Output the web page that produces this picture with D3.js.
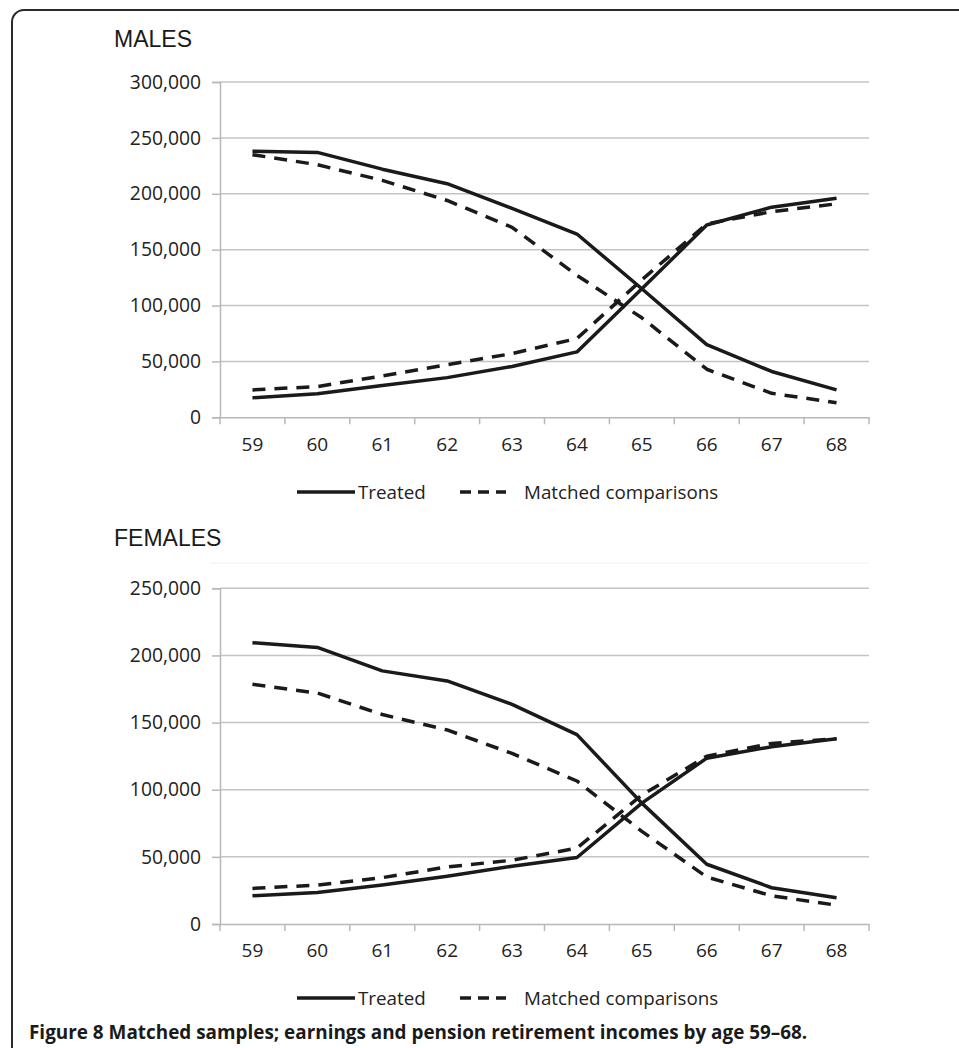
<!DOCTYPE html>
<html><head><meta charset="utf-8">
<script src="https://cdn.jsdelivr.net/npm/d3@7"></script>
<style>
body{margin:0;background:#fff;}
svg{display:block;}
</style></head>
<body>
<svg id="chart" width="959" height="1048"></svg>
<script>
const ages = [59,60,61,62,63,64,65,66,67,68];
const malesTicks = [0,50000,100000,150000,200000,250000,300000];
const femalesTicks = [0,50000,100000,150000,200000,250000];

// MALES
const maleTreatedDown   = [238000,237000,222000,209000,187000,164000,115000,65000,41000,24500];
const maleMatchedDown   = [235000,226000,212000,194000,170000,127000,89000,43000,21500,13000];
const maleTreatedUp     = [17500,21000,28500,35500,45500,58500,115000,172000,188000,196000];
const maleMatchedUp     = [24500,27500,37000,47000,57000,70500,123000,173000,184000,191000];

// FEMALES
const femaleTreatedDown = [209500,206000,188500,181000,163500,141000,90000,44500,27000,19500];
const femaleMatchedDown = [178500,172000,156000,144500,127000,106500,69000,35000,21000,14000];
const femaleTreatedUp   = [21000,23500,29000,35500,43000,49500,90000,123500,132000,138000];
const femaleMatchedUp   = [26500,29000,34500,42500,47500,56500,96000,125000,134500,138000];

const legendLabels = ["Treated","Matched comparisons"];
const titles = ["MALES","FEMALES"];
const caption = ["Figure 8", " Matched samples; earnings and pension retirement incomes by age 59\u201368."];

const svg = d3.select("#chart");

// outer rounded frame
svg.append("rect").attr("x",12).attr("y",10).attr("width",1000).attr("height",1100)
  .attr("rx",12).attr("fill","none").attr("stroke","#2a2a2a").attr("stroke-width",2);

function panel(cfg){
  const g = svg.append("g");
  const x = d3.scaleBand().domain(ages).range([220,869]).padding(0);
  const y = d3.scaleLinear().domain([0,cfg.max]).range([cfg.y0,cfg.ytop]);

  g.append("text").attr("x",114).attr("y",cfg.titleY)
    .attr("font-family","Liberation Sans, Arial, sans-serif").attr("font-size",23)
    .attr("fill","#1a1a1a").text(cfg.title);

  if (cfg.faintY) {
    g.append("line").attr("x1",210).attr("x2",869).attr("y1",cfg.faintY).attr("y2",cfg.faintY)
      .attr("stroke","#f0f0f0").attr("stroke-width",1);
  }

  // gridlines
  g.append("g").selectAll("line").data(cfg.ticks.filter(t=>t>0)).join("line")
    .attr("x1",220).attr("x2",869).attr("y1",d=>y(d)).attr("y2",d=>y(d))
    .attr("stroke","#c4c4c4").attr("stroke-width",1.5);

  // y axis
  const ya = g.append("g").attr("transform","translate(220,0)")
    .call(d3.axisLeft(y).tickValues(cfg.ticks).tickFormat(d3.format(",")).tickSize(8).tickPadding(11));
  ya.select(".domain").attr("stroke","#b8b8b8").attr("stroke-width",1.5);
  ya.selectAll(".tick line").attr("stroke","#b8b8b8").attr("stroke-width",1.5);
  ya.selectAll("text").attr("font-family","Open Sans, sans-serif").attr("font-size",19.3).attr("fill","#222");

  // x axis
  const xa = g.append("g").attr("transform",`translate(0,${cfg.y0})`)
    .call(d3.axisBottom(x).tickSize(0).tickPadding(20));
  xa.select(".domain").attr("stroke","#b8b8b8").attr("stroke-width",1.5);
  xa.selectAll("text").attr("font-family","Open Sans, sans-serif").attr("font-size",19).attr("fill","#222");
  const edges = ages.map(a=>x(a)).concat([x.range()[1]]);
  xa.append("g").selectAll("line").data(edges).join("line")
    .attr("x1",d=>d).attr("x2",d=>d).attr("y1",0).attr("y2",7)
    .attr("stroke","#b8b8b8").attr("stroke-width",1.5);

  const line = d3.line().x((d,i)=>x(ages[i])+x.bandwidth()/2).y(d=>y(d));
  const series = [
    {v:cfg.matchedDown, dash:true},
    {v:cfg.matchedUp, dash:true},
    {v:cfg.treatedDown, dash:false},
    {v:cfg.treatedUp, dash:false}
  ];
  g.append("g").selectAll("path").data(series).join("path")
    .attr("d",d=>line(d.v)).attr("fill","none").attr("stroke","#1a1a1a")
    .attr("stroke-width",3.5).attr("stroke-linejoin","round")
    .attr("stroke-dasharray",d=>d.dash?"13,9":null);

  // legend
  const ly = cfg.legendY;
  g.append("line").attr("x1",297).attr("x2",355).attr("y1",ly).attr("y2",ly)
    .attr("stroke","#1a1a1a").attr("stroke-width",3.5);
  g.append("text").attr("x",358).attr("y",ly+6.5).attr("font-family","Open Sans, sans-serif")
    .attr("font-size",18.8).attr("fill","#222").text(legendLabels[0]);
  g.append("line").attr("x1",460).attr("x2",506).attr("y1",ly).attr("y2",ly)
    .attr("stroke","#1a1a1a").attr("stroke-width",3.5).attr("stroke-dasharray","11,7");
  g.append("text").attr("x",524).attr("y",ly+6.5).attr("font-family","Open Sans, sans-serif")
    .attr("font-size",18.8).attr("fill","#222").text(legendLabels[1]);
}

panel({title:titles[0], titleY:47, max:300000, ticks:malesTicks, y0:417.3, ytop:82,
  treatedDown:maleTreatedDown, matchedDown:maleMatchedDown, treatedUp:maleTreatedUp, matchedUp:maleMatchedUp,
  legendY:492});
panel({title:titles[1], titleY:546, max:250000, ticks:femalesTicks, y0:924, ytop:588.3, faintY:563,
  treatedDown:femaleTreatedDown, matchedDown:femaleMatchedDown, treatedUp:femaleTreatedUp, matchedUp:femaleMatchedUp,
  legendY:998});

const cap = svg.append("text").attr("x",29).attr("y",1039)
  .attr("font-family","Open Sans, sans-serif").attr("font-size",18.9).attr("fill","#1a1a1a")
  .attr("font-weight","bold");
cap.append("tspan").text(caption[0]);
cap.append("tspan").text(caption[1]);
</script>
</body></html>
